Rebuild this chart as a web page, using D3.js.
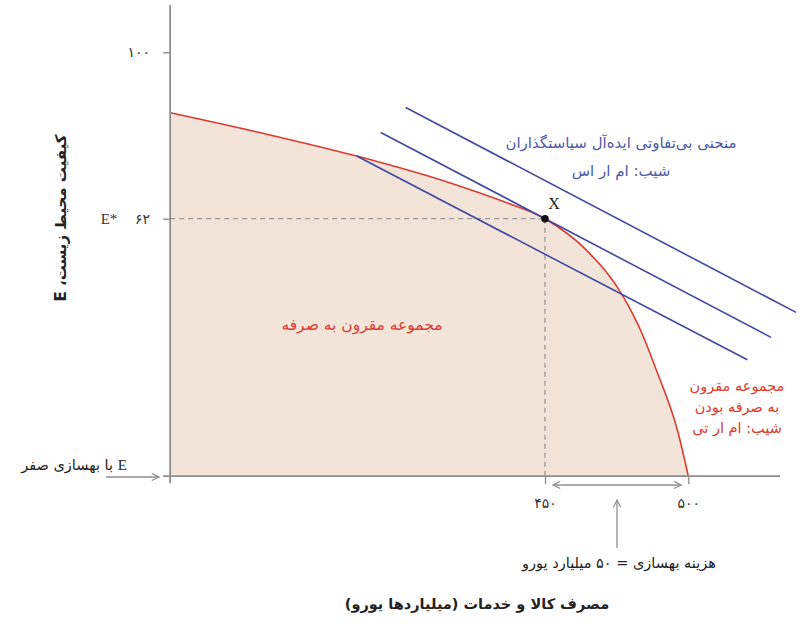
<!DOCTYPE html>
<html>
<head>
<meta charset="utf-8">
<script src="https://cdn.jsdelivr.net/npm/d3@7"></script>
<style>
  body { margin: 0; background: #fff; }
  text { font-family: "DejaVu Sans", sans-serif; }
</style>
</head>
<body>
<script>
// chart size
var w = 809;
var h = 632;

// feasible frontier (consumption, environmental quality)
var frontierX = [319.2, 351.6, 384.3, 417.2, 434.3, 450, 464.0, 477.3, 483.7, 488.4, 496.5, 500];
var frontierE = [86.2, 81.5, 76.3, 70.1, 66.2, 62, 55.1, 44.2, 36.0, 28.2, 13.0, 3.2];

// the three parallel indifference lines [x1, e1, x2, e2]
var indiffLines = [
  [401.4, 87.4, 537.6, 40.6],
  [392.7, 81.7, 528.9, 34.9],
  [384.3, 76.3, 520.6, 29.8]
];

// chosen point X
var pointX = [450, 62];

// E with zero abatement (the bottom axis)
var eZero = 3.2;
var xMin = 319.2, xMax = 532;

var yTicks = [62, 100];
var yTickLabels = ["۶۲", "۱۰۰"];
var xTicks = [450, 500];
var xTickLabels = ["۴۵۰", "۵۰۰"];

var red = "#dc3b2e";
var blue = "#4049a0";
var blueText = "#4d5aa6";
var axisGrey = "#8e8e8e";

var x = d3.scaleLinear().domain([450, 500]).range([545, 688.3]);
var y = d3.scaleLinear().domain([62, 100]).range([218.7, 52.3]);

var svg = d3.select("body")
    .append("svg")
    .attr("width", w)
    .attr("height", h);

var defs = svg.append("defs");
defs.append("marker")
    .attr("id", "chev")
    .attr("viewBox", "0 0 10 10")
    .attr("refX", 9)
    .attr("refY", 5)
    .attr("markerWidth", 9)
    .attr("markerHeight", 9)
    .attr("markerUnits", "userSpaceOnUse")
    .attr("orient", "auto-start-reverse")
  .append("path")
    .attr("d", "M1,1 L9,5 L1,9")
    .attr("fill", "none")
    .attr("stroke", axisGrey)
    .attr("stroke-width", 1.3);

var frontier = frontierX.map(function(d, i){ return [d, frontierE[i]]; });

// shaded feasible set
var area = d3.area()
    .x(function(d){ return x(d[0]); })
    .y0(y(eZero))
    .y1(function(d){ return y(d[1]); })
    .curve(d3.curveMonotoneX);

svg.append("path")
    .datum(frontier)
    .attr("fill", "#f3e4da")
    .attr("d", area);

// dashed guides to X
svg.append("line")
    .attr("x1", x(xMin)).attr("x2", x(pointX[0]))
    .attr("y1", y(pointX[1])).attr("y2", y(pointX[1]))
    .attr("stroke", "#9a9a9a").attr("stroke-width", 1.3)
    .attr("stroke-dasharray", "5,4");
svg.append("line")
    .attr("x1", x(pointX[0])).attr("x2", x(pointX[0]))
    .attr("y1", y(pointX[1])).attr("y2", y(eZero))
    .attr("stroke", "#9a9a9a").attr("stroke-width", 1.3)
    .attr("stroke-dasharray", "5,4");

// frontier line
var line = d3.line()
    .x(function(d){ return x(d[0]); })
    .y(function(d){ return y(d[1]); })
    .curve(d3.curveMonotoneX);

svg.append("path")
    .datum(frontier)
    .attr("fill", "none")
    .attr("stroke", red)
    .attr("stroke-width", 1.6)
    .attr("d", line);

// indifference lines
svg.selectAll(".indiff")
    .data(indiffLines)
    .enter()
    .append("line")
    .attr("class", "indiff")
    .attr("x1", function(d){ return x(d[0]); })
    .attr("y1", function(d){ return y(d[1]); })
    .attr("x2", function(d){ return x(d[2]); })
    .attr("y2", function(d){ return y(d[3]); })
    .attr("stroke", blue)
    .attr("stroke-width", 1.6);

// axes
svg.append("line")
    .attr("x1", x(xMin)).attr("x2", x(xMin))
    .attr("y1", 5).attr("y2", y(eZero) + 7)
    .attr("stroke", axisGrey).attr("stroke-width", 1.8);
svg.append("line")
    .attr("x1", x(xMin) - 7).attr("x2", x(xMax))
    .attr("y1", y(eZero)).attr("y2", y(eZero))
    .attr("stroke", axisGrey).attr("stroke-width", 1.8);

var yAxis = d3.axisLeft(y)
    .tickValues(yTicks)
    .tickSize(7)
    .tickPadding(13)
    .tickFormat(function(d, i){ return yTickLabels[i]; });

var gy = svg.append("g")
    .attr("transform", "translate(" + x(xMin) + ",0)")
    .call(yAxis);
gy.select(".domain").remove();
gy.selectAll(".tick line").attr("stroke", axisGrey).attr("stroke-width", 1.3);
gy.selectAll(".tick text")
    .attr("font-family", "DejaVu Sans")
    .attr("font-size", 14)
    .attr("fill", "#333");

var xAxis = d3.axisBottom(x)
    .tickValues(xTicks)
    .tickSize(8)
    .tickPadding(14)
    .tickFormat(function(d, i){ return xTickLabels[i]; });

var gx = svg.append("g")
    .attr("transform", "translate(0," + y(eZero) + ")")
    .call(xAxis);
gx.select(".domain").remove();
gx.selectAll(".tick line").attr("stroke", axisGrey).attr("stroke-width", 1.3);
gx.selectAll(".tick text")
    .attr("font-family", "DejaVu Sans")
    .attr("font-size", 14)
    .attr("fill", "#333");

// E* label
svg.append("text")
    .attr("x", 109).attr("y", y(62))
    .attr("dy", "0.35em")
    .attr("text-anchor", "middle")
    .style("font-family", "Liberation Serif")
    .attr("font-size", 15)
    .attr("fill", "#333")
    .text("E*");

// point X
svg.append("circle")
    .attr("cx", x(pointX[0])).attr("cy", y(pointX[1]))
    .attr("r", 3.8)
    .attr("fill", "#111");
svg.append("text")
    .attr("x", x(pointX[0]) + 9).attr("y", y(pointX[1]) - 10)
    .attr("text-anchor", "middle")
    .style("font-family", "Liberation Serif")
    .attr("font-size", 16)
    .attr("fill", "#222")
    .text("X");

// arrows
svg.append("line")
    .attr("x1", 106).attr("x2", 159)
    .attr("y1", 477).attr("y2", 477)
    .attr("stroke", axisGrey).attr("stroke-width", 1.3)
    .attr("marker-end", "url(#chev)");
svg.append("line")
    .attr("x1", x(pointX[0]) + 8).attr("x2", x(500) - 7)
    .attr("y1", 485).attr("y2", 485)
    .attr("stroke", axisGrey).attr("stroke-width", 1.3)
    .attr("marker-start", "url(#chev)")
    .attr("marker-end", "url(#chev)");
svg.append("line")
    .attr("x1", 617).attr("x2", 617)
    .attr("y1", 548).attr("y2", 500)
    .attr("stroke", axisGrey).attr("stroke-width", 1.3)
    .attr("marker-end", "url(#chev)");

// texts (Persian, right to left, centred)
function label(tx, ty, str, color, size, weight) {
  return svg.append("text")
      .attr("x", tx).attr("y", ty)
      .attr("dy", "0.35em")
      .attr("text-anchor", "middle")
      .attr("direction", "rtl")
      .attr("font-size", size)
      .attr("font-weight", weight || "normal")
      .attr("fill", color)
      .text(str);
}

label(621, 143, "منحنی بی‌تفاوتی ایده‌آل سیاستگذاران", blueText, 15);
label(621, 171, "شیب: ام ار اس", blueText, 15);
label(362, 325, "مجموعه مقرون به صرفه", red, 15.5);
label(737, 386, "مجموعه مقرون", red, 14.5);
label(737, 407, "به صرفه بودن", red, 14.5);
label(737, 428, "شیب: ام ار تی", red, 14.5);
label(619, 563, "هزینه بهسازی = ۵۰ میلیارد یورو", "#222", 14.5);
label(477, 604, "مصرف کالا و خدمات (میلیاردها یورو)", "#222", 14.5, "bold");

// E with zero abatement
svg.append("text")
    .attr("x", 113).attr("y", 465)
    .attr("dy", "0.35em")
    .attr("text-anchor", "end")
    .attr("font-size", 14.5)
    .attr("fill", "#222")
    .text("با بهسازی صفر");
svg.append("text")
    .attr("x", 127).attr("y", 465)
    .attr("dy", "0.35em")
    .attr("text-anchor", "end")
    .style("font-family", "Liberation Serif")
    .attr("font-size", 15)
    .attr("fill", "#222")
    .text("E");

// y axis title
label(0, 0, "کیفیت محیط زیست، E", "#222", 15, "bold")
    .attr("x", null).attr("y", null)
    .attr("transform", "translate(61,218) rotate(-90)");
</script>
</body>
</html>
